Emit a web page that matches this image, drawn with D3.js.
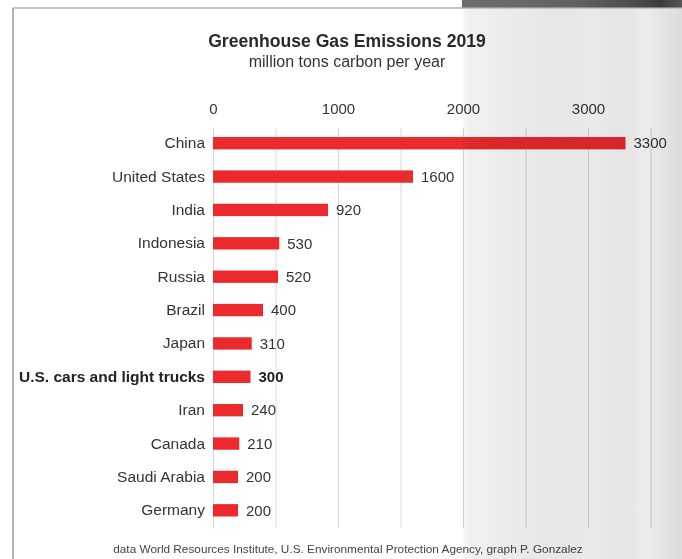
<!DOCTYPE html>
<html>
<head>
<meta charset="utf-8">
<script src="https://cdn.jsdelivr.net/npm/d3@7"></script>
<style>
  html, body { margin: 0; padding: 0; background: #fff; }
  svg { display: block; font-family: "Liberation Sans", Arial, Helvetica, sans-serif; }
</style>
</head>
<body>
<svg id="chart" width="682" height="559"></svg>
<script>
// Emissions by country, million tons carbon per year (2019)
const categories = ["China", "United States", "India", "Indonesia", "Russia", "Brazil",
  "Japan", "U.S. cars and light trucks", "Iran", "Canada", "Saudi Arabia", "Germany"];
const emissions = [3300, 1600, 920, 530, 520, 400, 310, 300, 240, 210, 200, 200];
const highlighted = ["U.S. cars and light trucks"];
const axisTicks = [0, 1000, 2000, 3000];
const gridTicks = [0, 500, 1000, 1500, 2000, 2500, 3000, 3500];

const rows = categories.map((c, i) => ({ name: c, value: emissions[i] }));

const svg = d3.select("#chart");
const W = 682, H = 559;

const x = d3.scaleLinear().domain([0, 3500]).range([213, 650.5]);
const y = d3.scaleBand().domain(categories).range([126.5, 527]).paddingInner(0.63).paddingOuter(0.315);

// frame
svg.append("line").attr("x1", 13).attr("x2", 13).attr("y1", 8).attr("y2", H)
  .attr("stroke", "#a0a0a0").attr("stroke-width", 1.6);
svg.append("line").attr("x1", 13).attr("x2", W).attr("y1", 8).attr("y2", 8)
  .attr("stroke", "#b0b0b0").attr("stroke-width", 1.4);

// titles
svg.append("text").attr("x", 347).attr("y", 47).attr("text-anchor", "middle")
  .attr("font-size", 17.6).attr("font-weight", "bold").attr("fill", "#2a2a2a")
  .text("Greenhouse Gas Emissions 2019");
svg.append("text").attr("x", 347).attr("y", 67).attr("text-anchor", "middle")
  .attr("font-size", 16).attr("fill", "#333")
  .text("million tons carbon per year");

// vertical grid
const grid = svg.append("g").attr("transform", "translate(0,128)")
  .call(d3.axisBottom(x).tickValues(gridTicks).tickSize(400).tickFormat(""));
grid.select(".domain").remove();
grid.selectAll(".tick line").attr("stroke", "#d8d8d8").attr("stroke-width", 1);

// top value axis
const topAxis = svg.append("g").attr("transform", "translate(0,114)")
  .call(d3.axisTop(x).tickValues(axisTicks).tickSize(0).tickPadding(0).tickFormat(d3.format("d")));
topAxis.select(".domain").remove();
topAxis.selectAll("text").attr("font-size", 15).attr("fill", "#333")
  .attr("font-family", "Liberation Sans, Arial, sans-serif");

// category axis
const leftAxis = svg.append("g").attr("transform", "translate(213,0)")
  .call(d3.axisLeft(y).tickSize(0).tickPadding(8));
leftAxis.select(".domain").remove();
leftAxis.selectAll("text").attr("font-size", 15.5)
  .attr("font-family", "Liberation Sans, Arial, sans-serif")
  .attr("font-weight", d => highlighted.includes(d) ? "bold" : "normal")
  .attr("fill", d => highlighted.includes(d) ? "#222" : "#333");

// bars
svg.append("g").selectAll("rect").data(rows).join("rect")
  .attr("x", x(0))
  .attr("y", d => y(d.name))
  .attr("width", d => x(d.value) - x(0))
  .attr("height", y.bandwidth())
  .attr("fill", "#ec2a2e");

// value labels
svg.append("g").selectAll("text").data(rows).join("text")
  .attr("x", d => x(d.value) + 8)
  .attr("y", d => y(d.name) + y.bandwidth() / 2)
  .attr("dy", "0.35em")
  .attr("font-size", 15)
  .attr("font-weight", d => highlighted.includes(d.name) ? "bold" : "normal")
  .attr("fill", d => highlighted.includes(d.name) ? "#222" : "#333")
  .text(d => d.value);

// source line
svg.append("text").attr("x", 348).attr("y", 553).attr("text-anchor", "middle")
  .attr("font-size", 11.8).attr("fill", "#444")
  .text("data World Resources Institute, U.S. Environmental Protection Agency, graph P. Gonzalez");

// grey backdrop on the right side, multiplied over the chart
const defs = svg.append("defs");
const shade = defs.append("linearGradient").attr("id", "shade")
  .attr("x1", "0").attr("x2", "1").attr("y1", "0").attr("y2", "0");
[[0, "#fbfbfb"], [0.03, "#f1f1f1"], [0.12, "#eeeeee"], [0.3, "#e9e9e9"], [0.45, "#e7e7e7"],
 [0.6, "#e9e9e9"], [0.75, "#e5e5e5"], [0.83, "#ececec"], [0.9, "#e5e5e5"], [1, "#dcdcdc"]]
  .forEach(([o, c]) => shade.append("stop").attr("offset", o).attr("stop-color", c));
const strip = defs.append("linearGradient").attr("id", "strip")
  .attr("x1", "0").attr("x2", "1").attr("y1", "0").attr("y2", "0");
[[0, "#6e6e6e"], [0.5, "#626262"], [0.8, "#4a4a4a"], [0.9, "#3c3c3c"], [1, "#575757"]]
  .forEach(([o, c]) => strip.append("stop").attr("offset", o).attr("stop-color", c));

svg.append("rect").attr("x", 462).attr("y", 9).attr("width", W - 462).attr("height", H - 9)
  .attr("fill", "url(#shade)").style("mix-blend-mode", "multiply");
svg.append("rect").attr("x", 462).attr("y", 0).attr("width", W - 462).attr("height", 7.5)
  .attr("fill", "url(#strip)");
</script>
</body>
</html>
